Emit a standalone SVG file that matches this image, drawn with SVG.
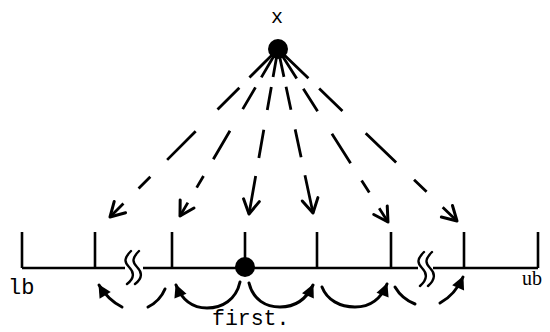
<svg xmlns="http://www.w3.org/2000/svg" width="550" height="332" viewBox="0 0 550 332">
<style>
.ln{stroke:#000;stroke-width:2.6;fill:none}
.dash{stroke:#000;stroke-width:2.8;fill:none;stroke-dasharray:17 6 13 13 17 10 7 9 8}
.dash2{stroke:#000;stroke-width:2.8;fill:none;stroke-dasharray:17 6 14 12 17 11 23}
.arc{stroke:#000;stroke-width:3;fill:none;stroke-linecap:round}
.brk{stroke:#000;stroke-width:2.4;fill:none;stroke-linecap:round}
.mono{font-family:"Liberation Mono","DejaVu Sans Mono",monospace;fill:#000}
.serif{font-family:"Liberation Serif","DejaVu Serif",serif;fill:#000}
</style>
<defs>
<marker id="open" viewBox="-17 -11 20 22" markerUnits="userSpaceOnUse" markerWidth="20" markerHeight="22" refX="0" refY="0" orient="auto">
<path d="M-14,-8 L0,0 L-14,8" fill="none" stroke="#000" stroke-width="3" stroke-linecap="round" stroke-linejoin="round"/>
</marker>
<marker id="solid" viewBox="-14 -8 16 16" markerUnits="userSpaceOnUse" markerWidth="16" markerHeight="16" refX="0" refY="0" orient="auto">
<path d="M1,0 L-12,-6.5 L-12,6.5 Z" fill="#000"/>
</marker>
</defs>

<g id="number-line">
<path class="ln" d="M22,268 H125 M143,268 H418 M433,268 H538"/>
<path class="ln" d="M22,232 V268 M95,232 V268 M172,232 V268 M245,232 V268 M317,232 V268 M391,232 V268 M464,232 V268 M538,232 V268"/>
<path class="brk" d="M131,251 C124,258 124,262 129,267 S135,278 127,284"/>
<path class="brk" d="M139,251 C132,258 132,262 137,267 S143,278 135,284"/>
<path class="brk" d="M424,252 C417,259 417,263 422,268 S428,279 420,286"/>
<path class="brk" d="M432,252 C425,259 425,263 430,268 S436,279 428,286"/>
<text class="mono" x="8" y="294" font-size="22">lb</text>
<text class="serif" x="522" y="285" font-size="20">ub</text>
</g>

<g id="connectors">
<path class="dash" pathLength="100" d="M278,49 L110,217" marker-end="url(#open)"/>
<path class="dash" pathLength="100" d="M278,49 L180,216" marker-end="url(#open)"/>
<path class="dash2" pathLength="100" d="M278,49 L249,214" marker-end="url(#open)"/>
<path class="dash2" pathLength="100" d="M278,49 L313,213" marker-end="url(#open)"/>
<path class="dash" pathLength="100" d="M278,49 L388,222" marker-end="url(#open)"/>
<path class="dash" pathLength="100" d="M278,49 L457,221" marker-end="url(#open)"/>

<path class="arc" d="M122,307 Q108,300 99,285" marker-end="url(#solid)"/>
<path class="arc" d="M165,289 Q160,301 148,307"/>
<path class="arc" d="M240,282 C236,300 222,308 207,308 C192,308 182,300 176,285" marker-end="url(#solid)"/>
<path class="arc" d="M249,283 C253,300 266,307 280,307 C295,307 306,300 313,285" marker-end="url(#solid)"/>
<path class="arc" d="M322,287 C327,300 340,307 355,307 C370,307 381,299 387,284" marker-end="url(#solid)"/>
<path class="arc" d="M395,287 Q402,299 415,304"/>
<path class="arc" d="M440,303 Q455,295 463,277" marker-end="url(#solid)"/>
</g>

<g id="node-x">
<circle cx="278" cy="49" r="10" fill="#000"/>
<text class="mono" x="277" y="23" font-size="20" text-anchor="middle">x</text>
</g>

<g id="node-first">
<circle cx="245" cy="267" r="10" fill="#000"/>
<text class="mono" x="212" y="325" font-size="21.5">first.</text>
</g>
</svg>
